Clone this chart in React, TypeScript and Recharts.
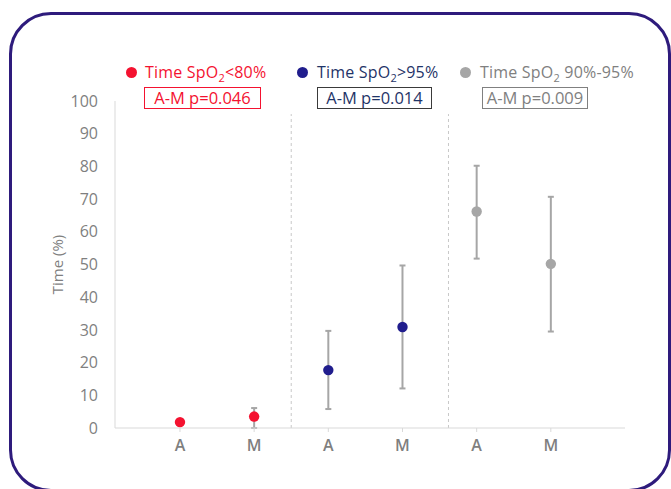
import React from 'react';
import { ScatterChart, Scatter, XAxis, YAxis, ErrorBar, ReferenceLine, Label } from 'recharts';

// categories on the x axis (Recharts numeric positions)
const categories = ['A', 'M', 'A', 'M', 'A', 'M'];
const xPositions = [1, 2, 3, 4, 5, 6];
const yTicks = [0, 10, 20, 30, 40, 50, 60, 70, 80, 90, 100];
const dividers = [2.5, 4.62];

// Time SpO2 < 80%
const below80 = [1.8, 3.5];
const below80Lo = [1.8, 0];
const below80Hi = [1.8, 6.1];

// Time SpO2 > 95%
const above95 = [17.7, 30.9];
const above95Lo = [5.8, 12.1];
const above95Hi = [29.7, 49.7];

// Time SpO2 90%-95%
const between = [66.2, 50.2];
const betweenLo = [51.8, 29.5];
const betweenHi = [80.2, 70.7];

const pValues = ['A-M p=0.046', 'A-M p=0.014', 'A-M p=0.009'];

const build = (offset: number, mean: number[], lo: number[], hi: number[]) =>
    mean.map((m, i) => ({
        x: xPositions[offset + i],
        y: m,
        err: [m - lo[i], hi[i] - m],
    }));

const redData = build(0, below80, below80Lo, below80Hi);
const blueData = build(2, above95, above95Lo, above95Hi);
const grayData = build(4, between, betweenLo, betweenHi);

const FONT = '"Open Sans", sans-serif';

const dot = (color: string) => (props: any) => (
    <circle cx={props.cx} cy={props.cy} r={5.2} fill={color} />
);

const headers = [
    { color: '#f41230', text: '#f41230', border: '#f41230', sub: '<80%', dotX: 131, textX: 145, boxX: 144, boxW: 117 },
    { color: '#201d8d', text: '#1f3468', border: '#3a3a3a', sub: '>95%', dotX: 302, textX: 317, boxX: 317, boxW: 115 },
    { color: '#a6a6a6', text: '#808080', border: '#808080', sub: ' 90%-95%', dotX: 465, textX: 480, boxX: 482, boxW: 106 },
];

const App = () => {
    return (
        <div style={{ position: 'absolute', left: 0, top: 0, width: 671, height: 489, background: '#fff', overflow: 'hidden', fontFamily: FONT }}>
            {/* purple rounded frame */}
            <div style={{ position: 'absolute', left: 9, top: 12, width: 662, height: 480, border: '3.5px solid #2e1b7c', borderRadius: 42, boxSizing: 'border-box' }} />

            <ScatterChart width={671} height={489} margin={{ top: 101, right: 46, bottom: 31, left: 0 }}>
                <XAxis
                    type="number"
                    dataKey="x"
                    domain={[0.124, 7.0]}
                    ticks={xPositions}
                    tickFormatter={(v: number) => categories[xPositions.indexOf(v)] ?? ''}
                    axisLine={{ stroke: '#d9d9d9' }}
                    tickLine={{ stroke: '#d9d9d9' }}
                    tickSize={4}
                    tickMargin={8}
                    tick={{ fill: '#7f7f7f', fontSize: 16, fontWeight: 600, fontFamily: FONT }}
                    allowDataOverflow
                />
                <YAxis
                    type="number"
                    dataKey="y"
                    domain={[0, 100]}
                    ticks={yTicks}
                    width={115}
                    axisLine={{ stroke: '#d9d9d9' }}
                    tickLine={false}
                    tickSize={6}
                    tickMargin={11}
                    tick={{ fill: '#7f7f7f', fontSize: 16, fontFamily: FONT }}
                >
                    <Label value="Time (%)" angle={-90} position="center" style={{ fill: '#7f7f7f', fontSize: 15, fontFamily: FONT }} />
                </YAxis>
                {dividers.map((d) => (
                    <ReferenceLine
                        key={d}
                        segment={[{ x: d, y: 0 }, { x: d, y: 96 }]}
                        stroke="#c8c8c8"
                        strokeDasharray="3 3"
                    />
                ))}
                <Scatter data={redData} fill="#f41230" shape={dot('#f41230')} isAnimationActive={false}>
                    <ErrorBar dataKey="err" direction="y" width={3} stroke="#a6a6a6" strokeWidth={2} />
                </Scatter>
                <Scatter data={blueData} fill="#201d8d" shape={dot('#201d8d')} isAnimationActive={false}>
                    <ErrorBar dataKey="err" direction="y" width={3} stroke="#a6a6a6" strokeWidth={2} />
                </Scatter>
                <Scatter data={grayData} fill="#a6a6a6" shape={dot('#a6a6a6')} isAnimationActive={false}>
                    <ErrorBar dataKey="err" direction="y" width={3} stroke="#a6a6a6" strokeWidth={2} />
                </Scatter>
            </ScatterChart>

            {/* group headers */}
            {headers.map((h, i) => (
                <React.Fragment key={i}>
                    <div style={{ position: 'absolute', left: h.dotX - 5.5, top: 66.5, width: 11, height: 11, borderRadius: '50%', background: h.color }} />
                    <div style={{ position: 'absolute', left: h.textX, top: 62, fontSize: 16, lineHeight: '20px', color: h.text, whiteSpace: 'nowrap', letterSpacing: 0.2 }}>
                        Time SpO<span style={{ fontSize: 11, position: 'relative', top: 4 }}>2</span>{h.sub}
                    </div>
                    <div style={{ position: 'absolute', left: h.boxX, top: 87, width: h.boxW, height: 22, border: `1.5px solid ${h.border}`, boxSizing: 'border-box', color: h.text, fontSize: 16.5, lineHeight: '19px', textAlign: 'center', whiteSpace: 'nowrap' }}>
                        {pValues[i]}
                    </div>
                </React.Fragment>
            ))}
        </div>
    );
};

export default App;
